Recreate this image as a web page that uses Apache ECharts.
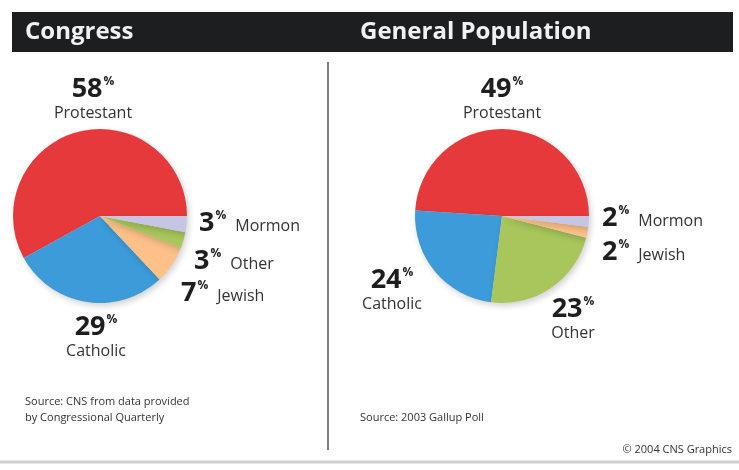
<!DOCTYPE html>
<html>
<head>
<meta charset="utf-8">
<script src="https://cdn.jsdelivr.net/npm/echarts@6/dist/echarts.min.js"></script>
<style>
  html, body { margin: 0; padding: 0; background: #fff; }
  #chart { width: 739px; height: 470px; }
</style>
</head>
<body>
<div id="chart"></div>
<script>
// data
var congressNames = ['Protestant', 'Catholic', 'Jewish', 'Other', 'Mormon'];
var congressValues = [58, 29, 7, 3, 3];
var publicNames = ['Protestant', 'Catholic', 'Other', 'Jewish', 'Mormon'];
var publicValues = [49, 24, 23, 2, 2];

var FONT = '"Open Sans", "Noto Sans", sans-serif';

var colorOf = {
    Protestant: '#e6393c',
    Catholic: '#3d9bd9',
    Jewish: '#fcc088',
    Other: '#a8c65c',
    Mormon: '#c6c6e4'
};

// where each label sits (stack = number above the name)
var congressLabels = {
    Protestant: { x: 93, y: 98, stack: true },
    Catholic: { x: 96, y: 336, stack: true },
    Jewish: { x: 181, y: 293 },
    Other: { x: 194, y: 261 },
    Mormon: { x: 199, y: 223 }
};
var publicLabels = {
    Protestant: { x: 502, y: 98, stack: true },
    Catholic: { x: 392, y: 289, stack: true },
    Other: { x: 573, y: 318, stack: true },
    Jewish: { x: 602, y: 252 },
    Mormon: { x: 602, y: 218 }
};

function buildData(names, values) {
    return names.map(function(name, i) {
        return { name: name, value: values[i], itemStyle: { color: colorOf[name] } };
    });
}

function labelText(p, table) {
    var pos = table[p.name];
    if (pos.stack) {
        return '{n|' + p.value + '}{p|%}\n{t|' + p.name + '}';
    }
    return '{n|' + p.value + '}{p|%}{ts|' + p.name + '}';
}

var rich = {
    n: { fontFamily: FONT, fontSize: 27, fontWeight: 'bold', color: '#1e1e1e', lineHeight: 30 },
    p: { fontFamily: FONT, fontSize: 12, fontWeight: 'bold', color: '#1e1e1e', verticalAlign: 'top', lineHeight: 13, padding: [2, 0, 0, 1] },
    t: { fontFamily: FONT, fontSize: 16, color: '#333', lineHeight: 18 },
    ts: { fontFamily: FONT, fontSize: 16, color: '#333', verticalAlign: 'bottom', lineHeight: 16, padding: [0, 0, 4, 9] }
};

function pieSeries(names, values, center, table) {
    return {
        type: 'pie',
        center: center,
        radius: 87,
        startAngle: 0,
        clockwise: false,
        avoidLabelOverlap: false,
        silent: true,
        animation: false,
        data: buildData(names, values),
        itemStyle: {
            borderWidth: 0,
            shadowBlur: 6,
            shadowOffsetX: 2,
            shadowOffsetY: 3,
            shadowColor: 'rgba(0,0,0,0.18)'
        },
        label: {
            show: true,
            position: 'outside',
            formatter: function(p) { return labelText(p, table); },
            rich: rich
        },
        labelLine: { show: false },
        labelLayout: function(params) {
            var pos = table[names[params.dataIndex]];
            return {
                x: pos.x,
                y: pos.y,
                align: pos.stack ? 'center' : 'left',
                verticalAlign: 'middle',
                moveOverlap: null
            };
        }
    };
}

var chart = echarts.init(document.getElementById('chart'));

var option = {
    backgroundColor: '#fff',
    animation: false,
    graphic: [
        // header bar
        { type: 'rect', shape: { x: 12, y: 12, width: 721, height: 40 }, style: { fill: '#1d1e1f' } },
        { type: 'text', x: 25, y: 32, style: { text: 'Congress', fill: '#f2f2f2', font: 'bold 24px ' + FONT, verticalAlign: 'middle' } },
        { type: 'text', x: 360, y: 32, style: { text: 'General Population', fill: '#f2f2f2', font: 'bold 24px ' + FONT, verticalAlign: 'middle' } },
        // divider and bottom rule
        { type: 'line', shape: { x1: 328, y1: 62, x2: 328, y2: 450 }, style: { stroke: '#555', lineWidth: 1.5 } },
        { type: 'line', shape: { x1: 0, y1: 462, x2: 739, y2: 462 }, style: { stroke: '#cfcfcf', lineWidth: 3 } },
        // sources
        { type: 'text', x: 25, y: 402, style: { text: 'Source: CNS from data provided', fill: '#333', font: '11px ' + FONT, verticalAlign: 'middle' } },
        { type: 'text', x: 25, y: 418, style: { text: 'by Congressional Quarterly', fill: '#333', font: '11px ' + FONT, verticalAlign: 'middle' } },
        { type: 'text', x: 360, y: 418, style: { text: 'Source: 2003 Gallup Poll', fill: '#333', font: '11px ' + FONT, verticalAlign: 'middle' } },
        { type: 'text', x: 732, y: 450, style: { text: '\u00a9 2004 CNS Graphics', fill: '#333', font: '11px ' + FONT, verticalAlign: 'middle', align: 'right' } }
    ],
    series: [
        pieSeries(congressNames, congressValues, [100, 216], congressLabels),
        pieSeries(publicNames, publicValues, [502, 216], publicLabels)
    ]
};

chart.setOption(option);
</script>
</body>
</html>
